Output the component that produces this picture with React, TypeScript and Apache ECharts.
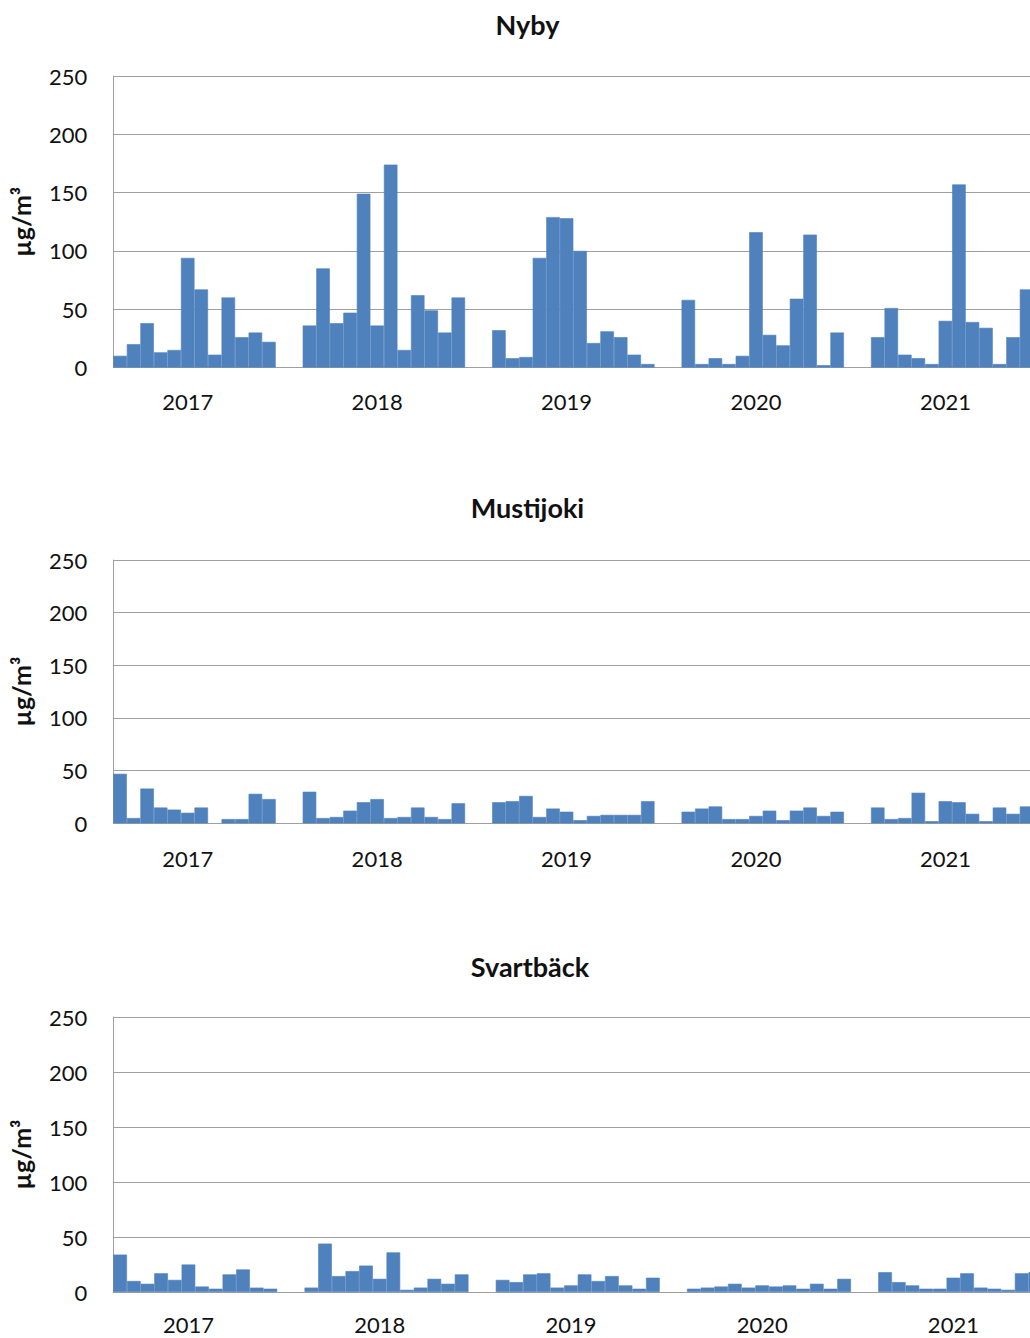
import React, { useEffect, useRef } from "react";
import * as echarts from "echarts";

// Monthly mean concentrations (µg/m³), January–December of each year
const years = ["2017", "2018", "2019", "2020", "2021"];

const nyby2017 = [10, 20, 38, 13, 15, 94, 67, 11, 60, 26, 30, 22];
const nyby2018 = [36, 85, 38, 47, 149, 36, 174, 15, 62, 49, 30, 60];
const nyby2019 = [32, 8, 9, 94, 129, 128, 100, 21, 31, 26, 11, 3];
const nyby2020 = [58, 3, 8, 3, 10, 116, 28, 19, 59, 114, 2, 30];
const nyby2021 = [26, 51, 11, 8, 3, 40, 157, 39, 34, 3, 26, 67];

const musti2017 = [47, 5, 33, 15, 13, 10, 15, null, 4, 4, 28, 23];
const musti2018 = [30, 5, 6, 12, 20, 23, 5, 6, 15, 6, 4, 19];
const musti2019 = [20, 21, 26, 6, 14, 11, 3, 7, 8, 8, 8, 21];
const musti2020 = [11, 14, 16, 4, 4, 7, 12, 3, 12, 15, 7, 11];
const musti2021 = [15, 4, 5, 29, 2, 21, 20, 9, 2, 15, 9, 16];

const svart2017 = [34, 10, 7.5, 17, 11, 25, 5, 3, 16, 20.5, 4, 3];
const svart2018 = [4, 44, 14.5, 19, 24, 12, 36, 2, 4, 12, 7.5, 16];
const svart2019 = [11, 9, 16, 17, 4, 6, 16, 10, 14.5, 6, 3, 13];
const svart2020 = [3, 4, 5, 7.5, 4, 6, 5, 6, 3, 7.5, 3, 12];
const svart2021 = [18, 9, 6, 3, 3, 13, 17, 4, 3, 2, 17, 18];

const stations = ["Nyby", "Mustijoki", "Svartbäck"];
const unitLabel = "µg/m³";
const yTicks = [0, 50, 100, 150, 200, 250];

// Each year occupies 12 monthly slots followed by 2 empty slots
const GAP_SLOTS = 2;
const SLOTS_PER_YEAR = 12 + GAP_SLOTS;
const LABEL_SLOT = 5;

const categories: string[] = [];
years.forEach((y) => {
  for (let m = 1; m <= 12; m++) categories.push(`${y}-${String(m).padStart(2, "0")}`);
  for (let g = 1; g <= GAP_SLOTS; g++) categories.push(`${y}-gap${g}`);
});

const withGaps = (perYear: (number | null)[][]) =>
  perYear.flatMap((vals) => [...vals, ...Array(GAP_SLOTS).fill(null)]);

const seriesData = [
  withGaps([nyby2017, nyby2018, nyby2019, nyby2020, nyby2021]),
  withGaps([musti2017, musti2018, musti2019, musti2020, musti2021]),
  withGaps([svart2017, svart2018, svart2019, svart2020, svart2021]),
];

const FONT = "Lato, 'Open Sans', sans-serif";
const BAR = "#4F81BD";
const LINE = "#a0a0a0";

// Panel geometry (pixels)
const panels = [
  { top: 76, bottom: 367.5, right: 19.6, titleY: 24, titleX: 527.5, labelMargin: 23 },
  { top: 560, bottom: 823.3, right: 19.6, titleY: 507.5, titleX: 527.5, labelMargin: 24 },
  { top: 1017, bottom: 1292, right: 10.5, titleY: 966, titleX: 530, labelMargin: 21.5 },
];
const CHART_W = 1080;
const CHART_H = 1338;
const LEFT = 113.3;

export default function App() {
  const ref = useRef<HTMLDivElement>(null);

  useEffect(() => {
    if (!ref.current) return;
    const chart = echarts.init(ref.current, undefined, { renderer: "svg" });

    const option: any = {
      animation: false,
      backgroundColor: "#ffffff",
      grid: panels.map((p) => ({
        left: LEFT,
        right: p.right,
        top: p.top,
        height: p.bottom - p.top,
        containLabel: false,
      })),
      xAxis: panels.map((p, i) => ({
        type: "category",
        gridIndex: i,
        data: categories,
        boundaryGap: true,
        axisLine: { show: true, lineStyle: { color: LINE, width: 1 } },
        axisTick: { show: false },
        splitLine: { show: false },
        axisLabel: {
          interval: (index: number) => index % SLOTS_PER_YEAR === LABEL_SLOT,
          formatter: (v: string) => v.slice(0, 4),
          color: "#111",
          fontFamily: FONT,
          fontSize: 22,
          margin: p.labelMargin,
        },
      })),
      yAxis: panels.map((_, i) => ({
        type: "value",
        gridIndex: i,
        min: yTicks[0],
        max: yTicks[yTicks.length - 1],
        interval: yTicks[1] - yTicks[0],
        axisLine: { show: true, lineStyle: { color: LINE, width: 1 } },
        axisTick: { show: false },
        splitLine: { show: true, lineStyle: { color: LINE, width: 1 } },
        axisLabel: {
          color: "#111",
          fontFamily: FONT,
          fontSize: 22,
          margin: 26,
        },
      })),
      series: seriesData.map((data, i) => ({
        type: "bar",
        name: stations[i],
        xAxisIndex: i,
        yAxisIndex: i,
        data,
        barCategoryGap: "0%",
        itemStyle: { color: BAR, borderColor: BAR, borderWidth: 0.6 },
      })),
      graphic: panels.flatMap((p, i) => [
        {
          type: "text",
          x: p.titleX,
          y: p.titleY,
          style: {
            text: stations[i],
            fontFamily: FONT,
            fontWeight: "bold",
            fontSize: 27,
            fill: "#111",
            textAlign: "center",
            textVerticalAlign: "middle",
          },
        },
        {
          type: "text",
          x: 21,
          y: (p.top + p.bottom) / 2,
          rotation: Math.PI / 2,
          style: {
            text: unitLabel,
            fontFamily: FONT,
            fontWeight: "bold",
            fontSize: 25,
            fill: "#111",
            textAlign: "center",
            textVerticalAlign: "middle",
          },
        },
      ]),
    };

    chart.setOption(option);
    return () => chart.dispose();
  }, []);

  return (
    <div
      style={{
        position: "absolute",
        left: 0,
        top: 0,
        width: 1030,
        height: CHART_H,
        overflow: "hidden",
        background: "#fff",
      }}
    >
      <div ref={ref} style={{ width: CHART_W, height: CHART_H }} />
    </div>
  );
}
